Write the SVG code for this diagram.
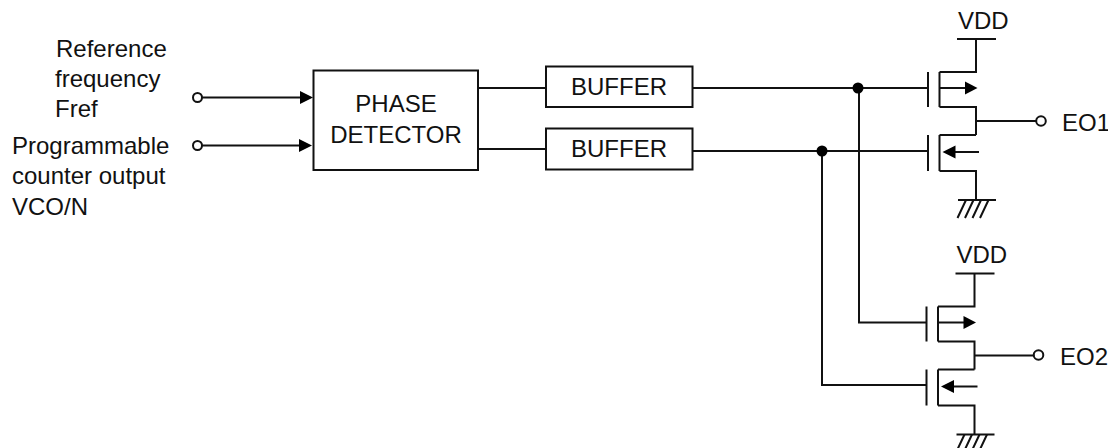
<svg xmlns="http://www.w3.org/2000/svg" width="1108" height="448" viewBox="0 0 1108 448">
<style>
text{font-family:"Liberation Sans",Arial,sans-serif;font-size:24px;fill:#111}
.w,.b{fill:none;stroke:#111;stroke-width:2}
.b{fill:#fff}
.o{fill:#fff;stroke:#111;stroke-width:2}
.a,.d{fill:#000;stroke:none}
</style>
<defs>
<g id="mos">
<path class="w" d="M0 -16V19M11.500 -16V19M11.500 -16H48V-49M29 -49H68M11.500 19H48V47M11.500 47H48"/>
<path class="w" d="M11.500 0H40"/>
<path class="a" d="M37 -6.500L49.500 0L37 6.500Z"/>
<path class="w" d="M0 47V83M11.500 47V83M11.500 83H48V112M30 112H68M48 33H108"/>
<path class="w" d="M20 64H51"/>
<path class="a" d="M14.500 64L27.500 57.500V70.500Z"/>
<path class="w" d="M38 112L29.500 130M45.500 112L37 130M53 112L44.500 130M60.500 112L52 130"/>
</g>
</defs>
<g id="connectors">
<path class="w" d="M202 97.500H302"/><path class="a" d="M300 91L313 97.500L300 104Z"/>
<path class="w" d="M202 145.500H301"/><path class="a" d="M299 139L312 145.500L299 152Z"/>
<path class="w" d="M478 88H546M478 149H546M692.500 88H928M692.500 151H928"/>
<path class="w" d="M859 88V322.500H927M822 151V385H927"/>
<circle class="d" cx="858" cy="88" r="5.500"/>
<circle class="d" cx="822" cy="151" r="5.500"/>
<circle class="o" cx="197.500" cy="97.500" r="4.500"/>
<circle class="o" cx="197.500" cy="145.500" r="4.500"/>
<circle class="o" cx="1041" cy="121" r="4.800"/>
<circle class="o" cx="1038.500" cy="355" r="4.800"/>
</g>
<g id="fref-label"><text x="56" y="57">Reference</text><text x="55" y="87">frequency</text><text x="55" y="117">Fref</text></g>
<g id="counter-label"><text x="12" y="154">Programmable</text><text x="12" y="184">counter output</text><text x="12" y="215">VCO/N</text></g>
<g id="phase-detector"><rect class="b" x="313.500" y="70.500" width="164.500" height="99.500"/>
<text x="396" y="112" text-anchor="middle">PHASE</text><text x="396" y="143" text-anchor="middle">DETECTOR</text></g>
<g id="buffer1"><rect class="b" x="546" y="66.500" width="146.500" height="40.500"/><text x="619" y="95" text-anchor="middle">BUFFER</text></g>
<g id="buffer2"><rect class="b" x="546" y="128.500" width="146.500" height="41"/><text x="619" y="157" text-anchor="middle">BUFFER</text></g>
<g id="driver1"><use href="#mos" x="928" y="88"/><text x="958" y="29">VDD</text><text x="1062" y="131">EO1</text></g>
<g id="driver2"><use href="#mos" x="926.500" y="322.500"/><text x="956.500" y="263">VDD</text><text x="1060" y="365">EO2</text></g>
</svg>
